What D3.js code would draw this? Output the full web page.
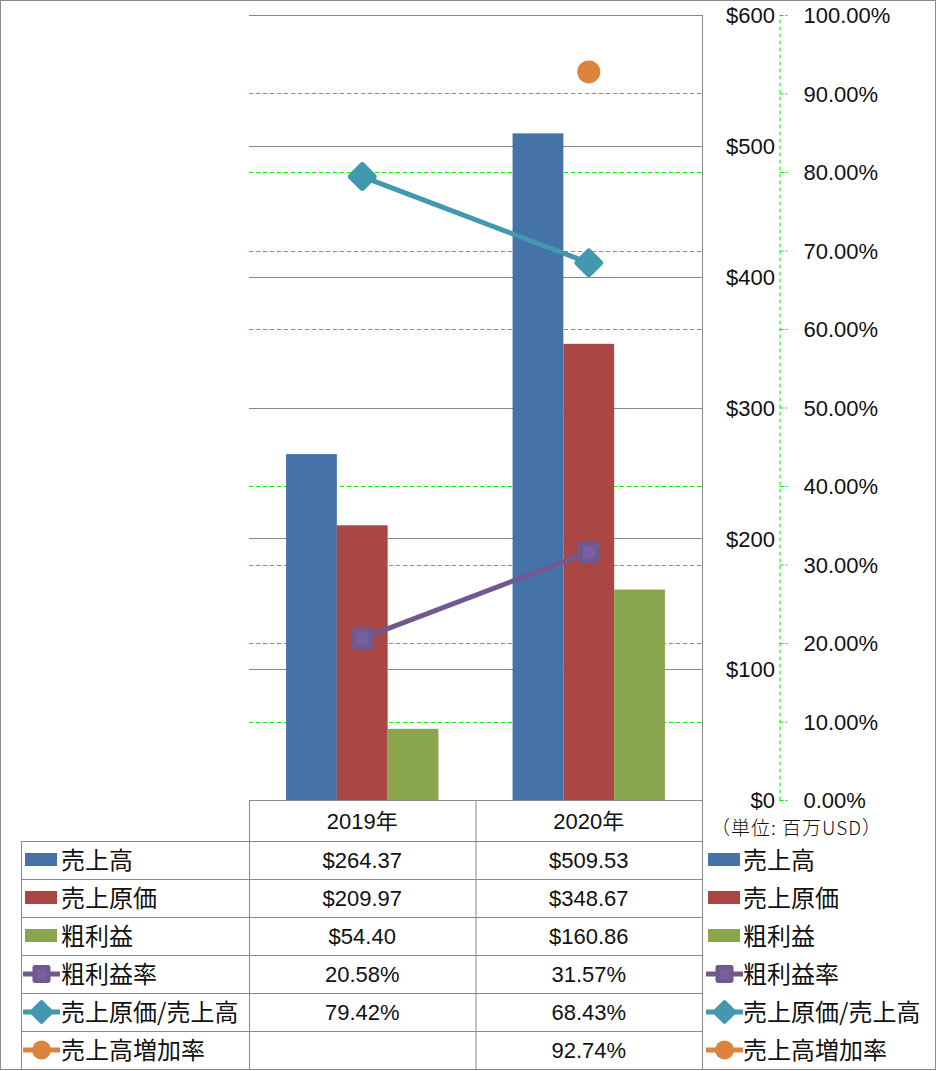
<!DOCTYPE html>
<html><head><meta charset="utf-8">
<script src="https://cdn.jsdelivr.net/npm/d3@7/dist/d3.min.js"></script>
<style>
html,body{margin:0;padding:0;background:#fff;}
svg{display:block;}
.num{font-family:"Liberation Sans",Arial,sans-serif;font-size:22px;fill:#111;}
.jp{font-family:"Noto Sans CJK JP",sans-serif;font-size:24px;fill:#111;}
</style></head>
<body>
<svg id="c" width="936" height="1071"></svg>
<script>
const categories = ["2019年", "2020年"];
const sales = [264.37, 509.53];
const cogs = [209.97, 348.67];
const gross = [54.40, 160.86];
const grossMargin = [20.58, 31.57];
const cogsRatio = [79.42, 68.43];
const salesGrowth = [null, 92.74];
const barNames = ["売上高", "売上原価", "粗利益"];
const lineNames = ["粗利益率", "売上原価/売上高", "売上高増加率"];
const dollarTicks = [0, 100, 200, 300, 400, 500, 600];
const pctTicks = [0, 10, 20, 30, 40, 50, 60, 70, 80, 90, 100];
const unitLabel = "（単位: 百万USD）";

const colors = {"売上高":"#4572a7","売上原価":"#aa4643","粗利益":"#89a54e",
  "粗利益率":"#71588f","売上原価/売上高":"#4198af","売上高増加率":"#db843d"};
const gridGray = "#898989";
const green = "#00ee00";

const svg = d3.select("#c");
const L = 249, R = 702, T = 15, B = 800;
const x = d3.scaleBand().domain(categories).range([L, R]);
const xs = d3.scaleBand().domain(barNames).range([0, x.bandwidth()]).paddingOuter(0.73);
const yL = d3.scaleLinear().domain([0, 600]).range([B, T]);
const yR = d3.scaleLinear().domain([0, 100]).range([B, T]);

// outer border
svg.append("rect").attr("x",0.5).attr("y",0.5).attr("width",935).attr("height",1069)
  .attr("fill","none").attr("stroke",gridGray);

// green dashed % gridlines
svg.append("g").selectAll("line").data(pctTicks.filter(d=>d>0)).join("line")
  .attr("x1",L).attr("x2",R).attr("y1",d=>Math.round(yR(d))+0.5).attr("y2",d=>Math.round(yR(d))+0.5)
  .attr("stroke",green).attr("stroke-width",1).attr("stroke-dasharray","4,3");
// gray $ gridlines
svg.append("g").selectAll("line").data(dollarTicks.filter(d=>d>0)).join("line")
  .attr("x1",L).attr("x2",R).attr("y1",d=>Math.round(yL(d))+0.5).attr("y2",d=>Math.round(yL(d))+0.5)
  .attr("stroke",gridGray).attr("stroke-width",1);

// bars
const barData = [];
categories.forEach((c,i)=>{
  [sales,cogs,gross].forEach((arr,j)=>barData.push({c, s:barNames[j], v:arr[i]}));
});
svg.append("g").selectAll("rect").data(barData).join("rect")
  .attr("x",d=>x(d.c)+xs(d.s)).attr("width",xs.bandwidth())
  .attr("y",d=>yL(d.v)).attr("height",d=>B-yL(d.v))
  .attr("fill",d=>colors[d.s]);

// lines
const cx = c => x(c) + x.bandwidth()/2;
function drawLine(arr, name){
  const pts = categories.map((c,i)=>({c, v:arr[i]})).filter(d=>d.v!=null);
  if(pts.length>1){
    svg.append("path").datum(pts)
      .attr("d", d3.line().x(d=>cx(d.c)).y(d=>yR(d.v)))
      .attr("fill","none").attr("stroke",colors[name]).attr("stroke-width",5);
  }
  return pts;
}
function marker(g, name, px, py){
  const col = colors[name];
  if(name==="粗利益率"){
    g.append("rect").attr("x",px-11).attr("y",py-11).attr("width",22).attr("height",22)
      .attr("rx",3).attr("fill",col);
    g.append("rect").attr("x",px-6).attr("y",py-6).attr("width",12).attr("height",12)
      .attr("fill","#7b64a0").attr("opacity",0.7);
  } else if(name==="売上原価/売上高"){
    g.append("rect").attr("x",-11).attr("y",-11).attr("width",22).attr("height",22).attr("rx",3)
      .attr("fill",col).attr("transform",`translate(${px},${py}) rotate(45)`);
  } else {
    g.append("circle").attr("cx",px).attr("cy",py).attr("r",11.5).attr("fill",col);
  }
}
[[grossMargin,"粗利益率"],[cogsRatio,"売上原価/売上高"],[salesGrowth,"売上高増加率"]].forEach(([arr,name])=>{
  const pts = drawLine(arr,name);
  const g = svg.append("g");
  pts.forEach(p=>marker(g,name,cx(p.c),yR(p.v)));
});

// left $ axis labels (right-aligned)
const axL = svg.append("g").attr("transform",`translate(775,0)`)
  .call(d3.axisLeft(yL).tickValues(dollarTicks).tickSize(0).tickPadding(0).tickFormat(d=>"$"+d));
axL.select(".domain").remove();
axL.selectAll("text").attr("class","num").attr("font-size",null).attr("font-family",null).attr("dy","0.35em");

// right % axis
const axR = svg.append("g").attr("transform",`translate(779.5,0)`)
  .call(d3.axisRight(yR).tickValues(pctTicks).tickSize(8).tickPadding(16).tickSizeOuter(0).tickFormat(d=>d3.format(".2f")(d)+"%"));
axR.select(".domain").attr("stroke",green).attr("stroke-dasharray","4,3");
axR.selectAll(".tick line").attr("stroke",green).attr("stroke-dasharray","4,2");
axR.selectAll("text").attr("class","num").attr("font-size",null).attr("font-family",null).attr("dy","0.35em");

svg.append("text").attr("class","jp").attr("x",711).attr("y",828).attr("dy","0.35em")
  .style("font-size","19px").style("font-weight","300").style("letter-spacing","1px").text(unitLabel);

// data table
const rowTop = 841, rowH = 38;
const rows = [
  {name:"売上高", vals:sales, fmt:d=>"$"+d3.format(".2f")(d)},
  {name:"売上原価", vals:cogs, fmt:d=>"$"+d3.format(".2f")(d)},
  {name:"粗利益", vals:gross, fmt:d=>"$"+d3.format(".2f")(d)},
  {name:"粗利益率", vals:grossMargin, fmt:d=>d3.format(".2f")(d)+"%"},
  {name:"売上原価/売上高", vals:cogsRatio, fmt:d=>d3.format(".2f")(d)+"%"},
  {name:"売上高増加率", vals:salesGrowth, fmt:d=>d3.format(".2f")(d)+"%"}
];
const tg = svg.append("g").attr("stroke",gridGray).attr("stroke-width",1);
const hl = (x1,x2,y)=>tg.append("line").attr("x1",x1).attr("x2",x2).attr("y1",y+0.5).attr("y2",y+0.5);
const vl = (xx,y1,y2)=>tg.append("line").attr("x1",xx+0.5).attr("x2",xx+0.5).attr("y1",y1).attr("y2",y2);
hl(L,R,B);
for(let i=0;i<=rows.length;i++) hl(21,R,rowTop+i*rowH);
vl(21,rowTop,rowTop+rows.length*rowH+0.5);
vl(L,B,rowTop+rows.length*rowH+0.5);
vl(x.range()[0]+x.bandwidth(),B,rowTop+rows.length*rowH+0.5);
vl(R,T,rowTop+rows.length*rowH+0.5);

// header
svg.append("g").selectAll("text").data(categories).join("text")
  .attr("class","num").attr("x",d=>cx(d)).attr("y",(B+rowTop)/2+1).attr("dy","0.35em")
  .attr("text-anchor","middle").text(d=>d.replace("年","")).append("tspan").attr("class","jp").style("font-size","22px").text("年");

function legendKey(g, name, kx, ky){
  if(barNames.includes(name)){
    g.append("rect").attr("x",kx).attr("y",ky-7).attr("width",32).attr("height",13).attr("fill",colors[name]);
  } else {
    g.append("line").attr("x1",kx-2).attr("x2",kx+35).attr("y1",ky).attr("y2",ky)
      .attr("stroke",colors[name]).attr("stroke-width",5);
    const s = 0.82;
    const mg = g.append("g").attr("transform",`translate(${kx+16.5},${ky}) scale(${s}) translate(${-(kx+16.5)},${-ky})`);
    marker(mg,name,kx+16.5,ky);
  }
}
rows.forEach((r,i)=>{
  const cy = rowTop + i*rowH + rowH/2;
  const g = svg.append("g");
  legendKey(g, r.name, 25, cy);
  g.append("text").attr("class","jp").attr("x",61).attr("y",cy).attr("dy","0.36em").text(r.name);
  categories.forEach((c,j)=>{
    if(r.vals[j]!=null) g.append("text").attr("class","num").attr("x",cx(c)).attr("y",cy).attr("dy","0.35em")
      .attr("text-anchor","middle").text(r.fmt(r.vals[j]));
  });
  legendKey(g, r.name, 708, cy);
  g.append("text").attr("class","jp").attr("x",743).attr("y",cy).attr("dy","0.36em").text(r.name);
});
</script>
</body></html>
